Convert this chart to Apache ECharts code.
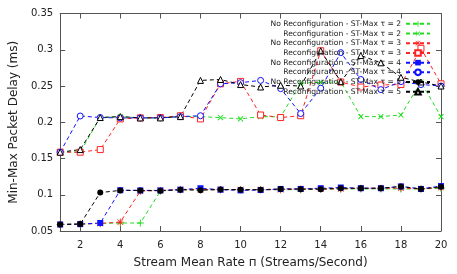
<!DOCTYPE html>
<html>
<head>
<meta charset="utf-8">
<script src="https://cdn.jsdelivr.net/npm/echarts@6/dist/echarts.min.js"></script>
<style>html,body{margin:0;padding:0;background:#fff}#c{width:457px;height:274px}</style>
</head>
<body>
<div id="c"></div>
<script>
const rates = [1,2,3,4,5,6,7,8,9,10,11,12,13,14,15,16,17,18,19,20];
const xTicks = [2,4,6,8,10,12,14,16,18,20];
const seriesNames = [
  'No Reconfiguration - ST-Max τ = 2',
  'Reconfiguration - ST-Max τ = 2',
  'No Reconfiguration - ST-Max τ = 3',
  'Reconfiguration - ST-Max τ = 3',
  'No Reconfiguration - ST-Max τ = 4',
  'Reconfiguration - ST-Max τ = 4',
  'No Reconfiguration - ST-Max τ = 5',
  'Reconfiguration - ST-Max τ = 5'
];
const noReconfTau2 = [0.059,0.0595,0.0605,0.061,0.061,0.105,0.107,0.107,0.107,0.107,0.107,0.107,0.107,0.108,0.108,0.108,0.108,0.108,0.108,0.109];
const reconfTau2   = [0.1587,0.159,0.2065,0.2078,0.206,0.206,0.2078,0.2078,0.2064,0.2046,0.2078,0.2075,0.254,0.255,0.2555,0.2078,0.2078,0.21,0.2555,0.2077];
const noReconfTau3 = [0.059,0.0595,0.0605,0.0623,0.105,0.106,0.107,0.107,0.107,0.107,0.107,0.107,0.108,0.108,0.108,0.109,0.109,0.109,0.108,0.110];
const reconfTau3   = [0.1587,0.1587,0.1623,0.2046,0.206,0.2065,0.209,0.2046,0.253,0.2564,0.21,0.2065,0.209,0.2986,0.2555,0.2486,0.2514,0.252,0.302,0.253];
const noReconfTau4 = [0.059,0.0595,0.061,0.1063,0.106,0.106,0.107,0.109,0.107,0.106,0.1065,0.108,0.108,0.109,0.110,0.109,0.109,0.1115,0.108,0.112];
const reconfTau4   = [0.1587,0.2086,0.2065,0.206,0.206,0.206,0.2078,0.209,0.253,0.2546,0.2577,0.2464,0.212,0.247,0.296,0.259,0.245,0.256,0.252,0.25];
const noReconfTau5 = [0.059,0.0595,0.103,0.106,0.106,0.1055,0.107,0.1063,0.1073,0.107,0.107,0.108,0.1077,0.1077,0.109,0.109,0.109,0.1114,0.108,0.111];
const reconfTau5   = [0.1587,0.1623,0.2065,0.2078,0.206,0.206,0.2078,0.2577,0.259,0.252,0.2486,0.251,0.25,0.2986,0.256,0.292,0.282,0.262,0.2555,0.25];

const PLUS = 'path://M4.3,0H5.7V4.3H10V5.7H5.7V10H4.3V5.7H0V4.3H4.3Z';
const STAR = 'path://M4.5,0H5.5V4.5H10V5.5H5.5V10H4.5V5.5H0V4.5H4.5Z M0.6,1.3L1.3,0.6L9.4,8.7L8.7,9.4Z M8.7,0.6L9.4,1.3L1.3,9.4L0.6,8.7Z';

function mk(name, vals, color, symbol, size, open, rotate) {
  return {
    name: name,
    type: 'line',
    data: rates.map((x, i) => [x, vals[i]]),
    symbol: symbol,
    symbolSize: size,
    symbolRotate: rotate || 0,
    color: color,
    lineStyle: { color: color, width: 1, type: [4, 3] },
    itemStyle: open ? { color: '#ffffff', borderColor: color, borderWidth: 1 } : { color: color, borderWidth: 0 },
    emphasis: { disabled: true },
    animation: false,
    z: 2
  };
}

const GREEN = '#22dd22', RED = '#ff2222', BLUE = '#1111ff', BLACK = '#000000';
const series = [
  mk(seriesNames[0], noReconfTau2, GREEN, PLUS, 7, false),
  mk(seriesNames[1], reconfTau2, GREEN, PLUS, 7, false, 45),
  mk(seriesNames[2], noReconfTau3, RED, STAR, 7, false),
  mk(seriesNames[3], reconfTau3, RED, 'rect', 6, true),
  mk(seriesNames[4], noReconfTau4, BLUE, 'rect', 6, false),
  mk(seriesNames[5], reconfTau4, BLUE, 'circle', 6, true),
  mk(seriesNames[6], noReconfTau5, BLACK, 'circle', 6, false),
  mk(seriesNames[7], reconfTau5, BLACK, 'triangle', 6, true)
];

const AX = '#555555';
const FONT = 'DejaVu Sans';
const chart = echarts.init(document.getElementById('c'), null, { renderer: 'canvas' });
chart.setOption({
  animation: false,
  backgroundColor: '#ffffff',
  textStyle: { fontFamily: FONT },
  grid: { left: 55, right: 16, top: 13.5, bottom: 40 },
  legend: {
    data: seriesNames,
    orient: 'vertical',
    right: 26,
    top: 19,
    align: 'right',
    itemWidth: 24,
    itemHeight: 7,
    itemGap: 0,
    padding: 0,
    selectedMode: false,
    textStyle: { fontFamily: FONT, fontSize: 7.6, color: '#222', lineHeight: 9.7 }
  },
  xAxis: [{
    type: 'value', min: 1, max: 20,
    name: 'Stream Mean Rate п (Streams/Second)', nameLocation: 'middle', nameGap: 26,
    nameTextStyle: { fontFamily: FONT, fontSize: 12, color: '#222' },
    axisLine: { show: true, lineStyle: { color: AX, width: 1 } },
    axisTick: { show: true, inside: true, length: 5, customValues: xTicks, lineStyle: { color: AX } },
    axisLabel: { customValues: xTicks, fontFamily: FONT, fontSize: 10, color: '#222', margin: 9 },
    splitLine: { show: false }
  }, {
    type: 'value', min: 1, max: 20, position: 'top',
    axisLine: { show: true, lineStyle: { color: AX, width: 1 } },
    axisTick: { show: true, inside: true, length: 5, customValues: xTicks, lineStyle: { color: AX } },
    axisLabel: { show: false },
    splitLine: { show: false }
  }],
  yAxis: [{
    type: 'value', min: 0.05, max: 0.35, interval: 0.05,
    name: 'Min-Max Packet Delay (ms)', nameLocation: 'middle', nameGap: 38,
    nameTextStyle: { fontFamily: FONT, fontSize: 12, color: '#222' },
    axisLine: { show: true, lineStyle: { color: AX, width: 1 } },
    axisTick: { show: true, inside: true, length: 5, lineStyle: { color: AX } },
    axisLabel: { fontFamily: FONT, fontSize: 10, color: '#222', margin: 7,
      formatter: v => String(Math.round(v * 100) / 100) },
    splitLine: { show: false }
  }, {
    type: 'value', min: 0.05, max: 0.35, interval: 0.05, position: 'right',
    axisLine: { show: true, lineStyle: { color: AX, width: 1 } },
    axisTick: { show: true, inside: true, length: 5, lineStyle: { color: AX } },
    axisLabel: { show: false },
    splitLine: { show: false }
  }],
  series: series
});
</script>
</body>
</html>
